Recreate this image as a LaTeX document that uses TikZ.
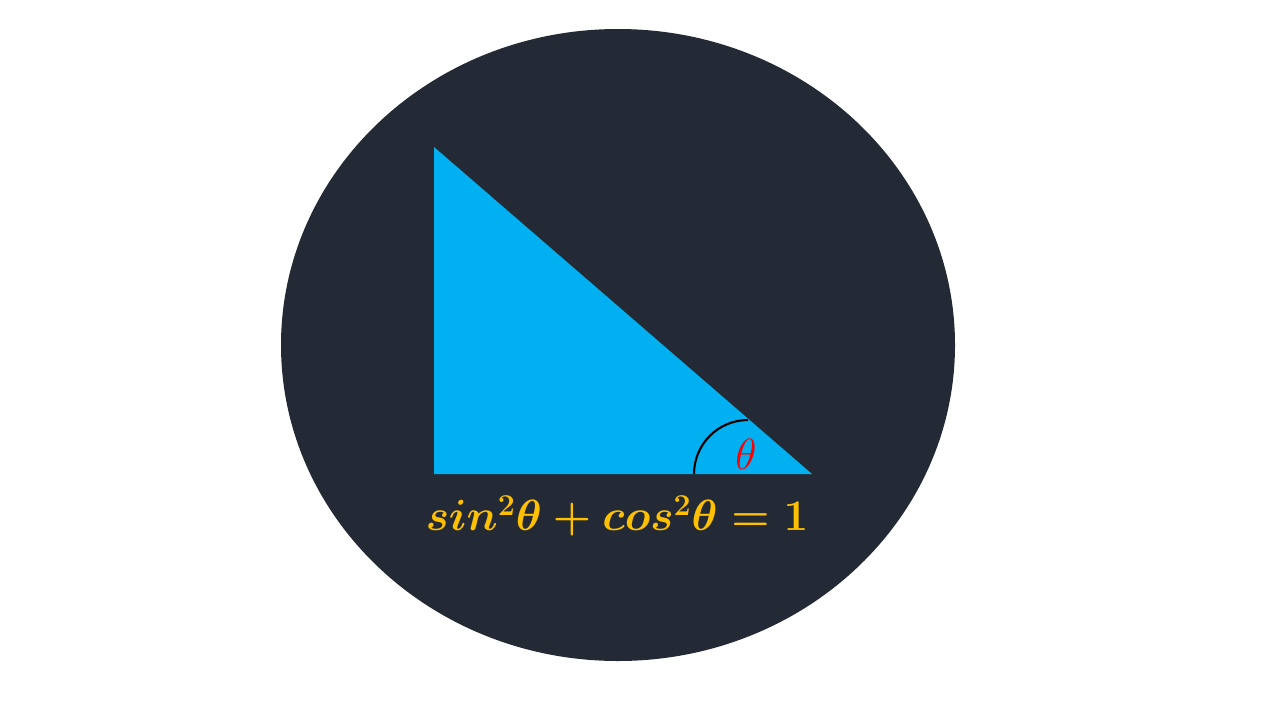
\documentclass[tikz,border=0pt]{standalone}
\definecolor{bgdark}{HTML}{232A35}
\definecolor{tri}{HTML}{00B0F0}
\definecolor{eqc}{HTML}{FFC000}
\begin{document}
\begin{tikzpicture}[x=0.02cm,y=-0.02cm]
\useasboundingbox (0,0) rectangle (1280,720);
\fill[bgdark] (618,345) ellipse [x radius=337, y radius=316];
\fill[tri] (434,147) -- (434,474) -- (812,474) -- cycle;
\draw[black, line width=1.2pt] (694,474) arc [start angle=180, end angle=90, x radius=54, y radius=-54];
\node[text=red, font=\fontsize{25}{30}\selectfont] (th) at (746,454) {$\theta$};
\node[text=eqc, font=\fontsize{26}{31}\selectfont\boldmath] (eq) at (617,516) {$sin^2\theta + cos^2\theta = 1$};
\end{tikzpicture}
\end{document}
